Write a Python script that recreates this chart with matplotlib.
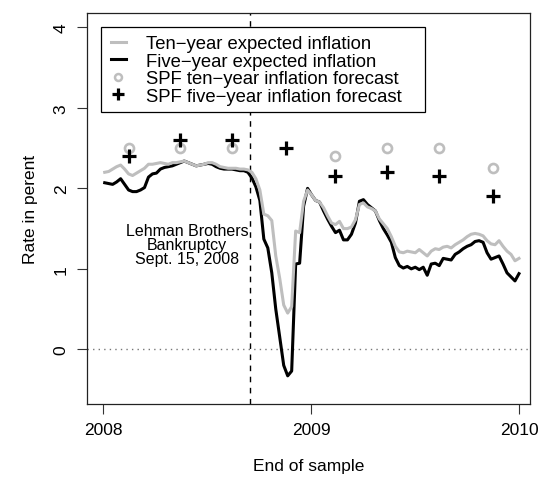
import numpy as np
import pandas as pd
import matplotlib
matplotlib.use("Agg")
import matplotlib.pyplot as plt
from matplotlib.lines import Line2D
from matplotlib.patches import Rectangle

plt.rcParams['font.family'] = ['Liberation Sans', 'DejaVu Sans']

# ---------------- data ----------------
week_start = "2008-01-04"
n_weeks = 105
ten_year = [2.20, 2.21, 2.24, 2.27, 2.29, 2.24, 2.18, 2.16, 2.19, 2.22,
            2.25, 2.30, 2.30, 2.31, 2.32, 2.31, 2.30, 2.32, 2.32, 2.33,
            2.34, 2.32, 2.30, 2.28, 2.29, 2.30, 2.32, 2.32, 2.30, 2.27,
            2.26, 2.25, 2.25, 2.25, 2.24, 2.24, 2.23, 2.20, 2.12, 1.98,
            1.68, 1.66, 1.60, 1.16, 0.88, 0.55, 0.45, 0.53, 1.47, 1.45,
            1.84, 1.98, 1.92, 1.85, 1.83, 1.76, 1.66, 1.57, 1.55, 1.59,
            1.50, 1.50, 1.52, 1.61, 1.80, 1.82, 1.77, 1.75, 1.72, 1.62,
            1.56, 1.50, 1.40, 1.28, 1.21, 1.20, 1.22, 1.21, 1.20, 1.24,
            1.20, 1.16, 1.22, 1.25, 1.24, 1.27, 1.28, 1.26, 1.30, 1.33,
            1.36, 1.40, 1.43, 1.44, 1.43, 1.41, 1.35, 1.31, 1.30, 1.35,
            1.28, 1.22, 1.18, 1.10, 1.13]
five_year = [2.07, 2.06, 2.05, 2.08, 2.12, 2.05, 1.98, 1.96, 1.96, 1.98,
             2.01, 2.14, 2.18, 2.19, 2.24, 2.26, 2.27, 2.28, 2.30, 2.32,
             2.34, 2.32, 2.30, 2.28, 2.29, 2.30, 2.31, 2.30, 2.27, 2.25,
             2.24, 2.24, 2.24, 2.23, 2.22, 2.22, 2.20, 2.13, 2.02, 1.85,
             1.37, 1.26, 0.95, 0.50, 0.15, -0.20, -0.33, -0.27, 1.06, 1.07,
             1.78, 2.00, 1.92, 1.85, 1.83, 1.72, 1.62, 1.53, 1.45, 1.48,
             1.36, 1.36, 1.43, 1.57, 1.84, 1.86, 1.80, 1.76, 1.72, 1.60,
             1.50, 1.42, 1.33, 1.14, 1.04, 1.01, 1.03, 1.00, 1.02, 0.99,
             1.02, 0.92, 1.06, 1.07, 1.04, 1.13, 1.12, 1.11, 1.18, 1.21,
             1.25, 1.28, 1.30, 1.34, 1.35, 1.33, 1.20, 1.12, 1.14, 1.16,
             1.06, 0.95, 0.90, 0.85, 0.94]
spf_dates = ["2008-02-15", "2008-05-15", "2008-08-15", "2008-11-18",
             "2009-02-13", "2009-05-15", "2009-08-14", "2009-11-16"]
spf_ten = [2.5, 2.5, 2.5, np.nan, 2.4, 2.5, 2.5, 2.25]
spf_five = [2.4, 2.6, 2.6, 2.5, 2.15, 2.2, 2.15, 1.9]
lehman_date = "2008-09-15"
lehman_text = "Lehman Brothers\nBankruptcy\nSept. 15, 2008"
x_ticks = [2008, 2009, 2010]
y_ticks = [0, 1, 2, 3, 4]
legend_labels = ["Ten\u2212year expected inflation",
                 "Five\u2212year expected inflation",
                 "SPF ten\u2212year inflation forecast",
                 "SPF five\u2212year inflation forecast"]


def dec_year(d):
    d = pd.to_datetime(d)
    days = np.where(d.is_leap_year, 366.0, 365.0)
    return d.year + (d.dayofyear - 1) / days


weeks = pd.date_range(week_start, periods=n_weeks, freq="7D")
t_weeks = dec_year(pd.DatetimeIndex(weeks))
t_spf = dec_year(pd.DatetimeIndex(pd.to_datetime(spf_dates)))
t_lehman = float(dec_year(pd.DatetimeIndex([pd.to_datetime(lehman_date)]))[0])

# ---------------- figure ----------------
W, H = 542, 481
fig = plt.figure(figsize=(W / 100, H / 100), dpi=100)
L, R, T, B = 87, 530, 14, 405
ax = fig.add_axes([L / W, 1 - B / H, (R - L) / W, (B - T) / H])

GRAY = "#BEBEBE"
ax.axhline(0, color="#777777", lw=1.0, linestyle=(0, (1, 3)), zorder=1)
ax.axvline(t_lehman, color="black", lw=1.0, linestyle=(0, (4, 4)), zorder=1)

ax.plot(t_weeks, ten_year, color=GRAY, lw=2.2, zorder=3, solid_joinstyle="round")
ax.plot(t_weeks, five_year, color="black", lw=2.2, zorder=2, solid_joinstyle="round")
ax.plot(t_spf, spf_ten, linestyle="none", marker="o", ms=6.5, mfc="none",
        mec=GRAY, mew=1.9, zorder=4)
ax.plot(t_spf, spf_five, linestyle="none", marker="+", ms=10, mec="black",
        mew=2.3, zorder=5)

ax.text(2008.404, 1.305, lehman_text, ha="center", va="center",
        fontsize=11.5, linespacing=0.92)

ax.set_xlim(2007.923, 2010.053)
ax.set_ylim(-0.68, 4.18)
ax.set_xticks(x_ticks)
ax.set_xticklabels([str(v) for v in x_ticks], fontsize=12.5)
ax.set_yticks(y_ticks)
ax.set_yticklabels([str(v) for v in y_ticks], fontsize=12.5, rotation=90, va="center")
ax.tick_params(axis="both", direction="out", length=7.2, width=0.8, color="#333333", pad=6)
for s in ax.spines.values():
    s.set_linewidth(0.9)
    s.set_color("#222222")

ax.set_xlabel("End of sample", fontsize=12.5, labelpad=15)
ax.set_ylabel("Rate in perent", fontsize=12.5, labelpad=11)

# legend frame (drawn separately to match the wide R legend box)
def px2ax(px, py):
    return (px - L) / (R - L), (B - py) / (B - T)

x0, y1 = px2ax(101, 28)
x1, y0 = px2ax(425, 113)
ax.add_patch(Rectangle((x0, y0), x1 - x0, y1 - y0, transform=ax.transAxes,
                       facecolor="white", edgecolor="black", lw=0.9, zorder=9))

handles = [Line2D([], [], color=GRAY, lw=2.2),
           Line2D([], [], color="black", lw=2.2),
           Line2D([], [], linestyle="none", marker="o", ms=5, mfc="none", mec=GRAY, mew=1.8),
           Line2D([], [], linestyle="none", marker="+", ms=8, mec="black", mew=2.3)]
lx, ly = px2ax(111, 36)
leg = ax.legend(handles, legend_labels, loc="upper left",
                bbox_to_anchor=(lx, ly),
                borderaxespad=0, fontsize=13.3, labelspacing=0.03,
                handlelength=0.8, handletextpad=1.1, borderpad=0.0,
                frameon=False)
leg.set_zorder(10)

fig.savefig("out.png", dpi=100)
